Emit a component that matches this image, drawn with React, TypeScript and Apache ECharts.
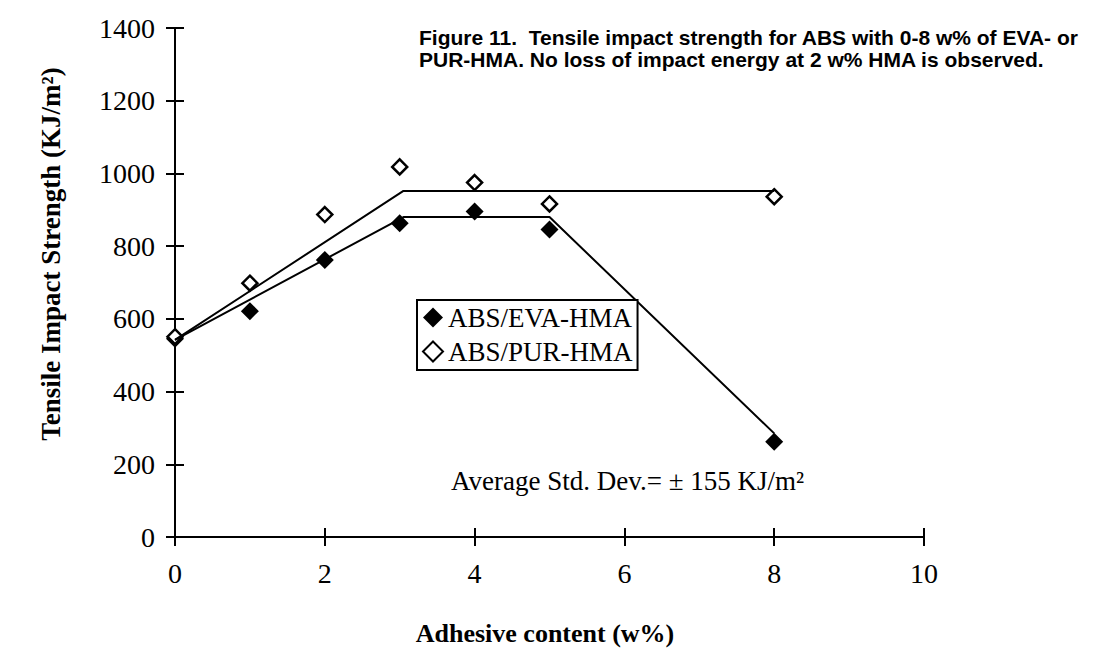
import React, { useEffect, useRef } from "react";
import * as echarts from "echarts";

// Adhesive content (w%) at which each blend was tested
const contents = [0, 1, 2, 3, 4, 5, 8];
// Measured tensile impact strength (KJ/m2)
const evaValues = [545, 621, 762, 863, 895, 846, 262];
const purValues = [551, 698, 887, 1018, 975, 916, 936];

// Piecewise trend lines through each data set
const evaFitX = [0, 3.05, 5.0, 8];
const evaFitY = [542, 880, 880, 285];
const purFitX = [0, 3.05, 8];
const purFitY = [542, 952, 952];

const xMin = 0;
const xMax = 10;
const xStep = 2;
const yMin = 0;
const yMax = 1400;
const yStep = 200;

const seriesNames = ["ABS/EVA-HMA", "ABS/PUR-HMA"];
const captionLines = [
  "Figure 11.  Tensile impact strength for ABS with 0-8 w% of EVA- or",
  "PUR-HMA. No loss of impact energy at 2 w% HMA is observed.",
];
const xTitle = "Adhesive content (w%)";
const yTitle = "Tensile Impact Strength (KJ/m²)";
const noteText = "Average Std. Dev.= ± 155 KJ/m²";

const serif = "'Liberation Serif', 'Times New Roman', serif";
const sans = "'Liberation Sans', Arial, sans-serif";

const zip = (xs: number[], ys: number[]) => xs.map((x, i) => [x, ys[i]]);

export default function App() {
  const ref = useRef<HTMLDivElement>(null);

  useEffect(() => {
    if (!ref.current) return;
    const chart = echarts.init(ref.current, undefined, { renderer: "svg" });

    const axisLineStyle = { color: "#000", width: 2 };
    const valueX = { type: "value" as const, min: xMin, max: xMax, interval: xStep };
    const valueY = { type: "value" as const, min: yMin, max: yMax, interval: yStep };
    const plain = (v: number) => String(v);

    chart.setOption({
      animation: false,
      backgroundColor: "#fff",
      grid: { left: 175, right: 172, top: 28, bottom: 116 },
      xAxis: [
        {
          ...valueX,
          position: "bottom",
          axisLine: { lineStyle: axisLineStyle },
          axisTick: { length: 9, lineStyle: axisLineStyle },
          axisLabel: { color: "#000", fontSize: 28, fontFamily: serif, margin: 22, formatter: plain },
          splitLine: { show: false },
        },
        {
          ...valueX,
          position: "bottom",
          axisLine: { show: false },
          axisTick: { inside: true, length: 9, lineStyle: axisLineStyle },
          axisLabel: { show: false },
          splitLine: { show: false },
        },
      ],
      yAxis: [
        {
          ...valueY,
          position: "left",
          axisLine: { show: true, lineStyle: axisLineStyle },
          axisTick: { show: true, length: 9, lineStyle: axisLineStyle },
          axisLabel: { color: "#000", fontSize: 28, fontFamily: serif, margin: 20, formatter: plain },
          splitLine: { show: false },
        },
        {
          ...valueY,
          position: "left",
          axisLine: { show: false },
          axisTick: { show: true, inside: true, length: 9, lineStyle: axisLineStyle },
          axisLabel: { show: false },
          splitLine: { show: false },
        },
      ],
      legend: {
        data: seriesNames,
        orient: "vertical",
        left: 417,
        top: 300,
        padding: [4, 5, 5, 5],
        itemWidth: 20,
        itemHeight: 20,
        itemGap: 7,
        icon: "diamond",
        borderColor: "#000",
        borderWidth: 2,
        backgroundColor: "#fff",
        selectedMode: false,
        textStyle: { color: "#000", fontSize: 27, fontFamily: serif },
      },
      series: [
        {
          type: "line",
          data: zip(evaFitX, evaFitY),
          symbol: "none",
          silent: true,
          lineStyle: { color: "#000", width: 2 },
        },
        {
          type: "line",
          data: zip(purFitX, purFitY),
          symbol: "none",
          silent: true,
          lineStyle: { color: "#000", width: 2 },
        },
        {
          name: seriesNames[0],
          type: "scatter",
          data: zip(contents, evaValues),
          symbol: "diamond",
          symbolSize: 18,
          clip: false,
          itemStyle: { color: "#000", opacity: 1 },
        },
        {
          name: seriesNames[1],
          type: "scatter",
          data: zip(contents, purValues),
          symbol: "diamond",
          symbolSize: 15,
          clip: false,
          itemStyle: { color: "#fff", borderColor: "#000", borderWidth: 2.5, opacity: 1 },
        },
      ],
      graphic: [
        {
          type: "text",
          x: 51,
          y: 254,
          rotation: Math.PI / 2,
          style: {
            text: yTitle,
            fill: "#000",
            font: `bold 27px ${serif}`,
            align: "center",
            verticalAlign: "middle",
          },
        },
        {
          type: "text",
          x: 545,
          y: 633,
          style: {
            text: xTitle,
            fill: "#000",
            font: `bold 26px ${serif}`,
            align: "center",
            verticalAlign: "middle",
          },
        },
        {
          type: "text",
          x: 451,
          y: 481,
          style: {
            text: noteText,
            fill: "#000",
            font: `27px ${serif}`,
            align: "left",
            verticalAlign: "middle",
          },
        },
        ...captionLines.map((line, i) => ({
          type: "text",
          x: 419,
          y: 37.5 + i * 21.7,
          style: {
            text: line,
            fill: "#000",
            font: `bold 21px ${sans}`,
            align: "left",
            verticalAlign: "middle",
          },
        })),
      ],
    });

    return () => chart.dispose();
  }, []);

  return (
    <div
      ref={ref}
      style={{ position: "fixed", left: 0, top: 0, width: 1096, height: 653, background: "#fff" }}
    />
  );
}
